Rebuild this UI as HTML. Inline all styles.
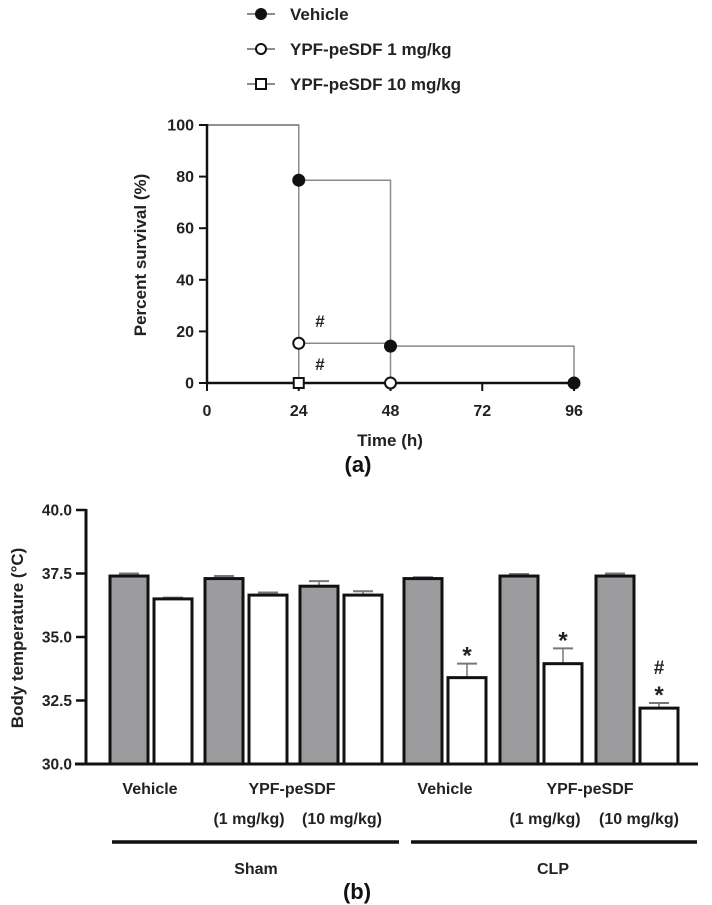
<!DOCTYPE html>
<html><head><meta charset="utf-8"><style>
html,body{margin:0;padding:0;background:#fff;}
svg{display:block;font-family:"Liberation Sans",Arial,sans-serif;font-weight:bold;}
</style></head><body>
<svg id="fig" width="712" height="905" viewBox="0 0 712 905" xmlns="http://www.w3.org/2000/svg">
<g id="legend"></g>
<g id="chartA"></g>
<g id="chartB"></g>
</svg>
<script>
// ---- Panel (a) data ----
const survTimeTicks = [0, 24, 48, 72, 96];
const survPctTicks = [0, 20, 40, 60, 80, 100];
const vehTimes = [0, 24, 48, 96];
const vehSurv = [100, 78.6, 14.3, 0];
const low1Times = [0, 24, 48];
const low1Surv = [100, 15.4, 0];
const high10Times = [0, 24];
const high10Surv = [100, 0];

// ---- Panel (b) data ----
const tempGroups = ["Sham Vehicle","Sham 1 mg/kg","Sham 10 mg/kg","CLP Vehicle","CLP 1 mg/kg","CLP 10 mg/kg"];
const preTemp = [37.4, 37.3, 37.0, 37.3, 37.4, 37.4];
const preErr = [0.1, 0.1, 0.2, 0.05, 0.08, 0.1];
const postTemp = [36.5, 36.65, 36.65, 33.4, 33.95, 32.2];
const postErr = [0.05, 0.1, 0.15, 0.55, 0.6, 0.2];
const postMarks = [[], [], [], ["*"], ["*"], ["*", "#"]];
const tempTicks = [30.0, 32.5, 35.0, 37.5, 40.0];

const NS = "http://www.w3.org/2000/svg";
function mk(tag, attrs, parent, text) {
  const e = document.createElementNS(NS, tag);
  for (const k in attrs) e.setAttribute(k, attrs[k]);
  if (text !== undefined) e.textContent = text;
  parent.appendChild(e);
  return e;
}

// ---- Legend ----
const lg = document.getElementById('legend');
const legendItems = [["Vehicle", "filled"], ["YPF-peSDF 1 mg/kg", "open"], ["YPF-peSDF 10 mg/kg", "square"]];
legendItems.forEach((it, i) => {
  const y = 14 + i * 35;
  const g = mk('g', {}, lg);
  
  
  mk('line', {x1: 247, x2: 275, y1: y, y2: y, stroke: '#666', 'stroke-width': 1.5}, g);
  if (it[1] === 'square') mk('rect', {x: 256, y: y - 5, width: 10, height: 10, fill: '#fff', stroke: '#111', 'stroke-width': 2}, g);
  else mk('circle', {cx: 261, cy: y, r: 5, fill: it[1] === 'filled' ? '#111' : '#fff', stroke: '#111', 'stroke-width': 2}, g);
  mk('text', {x: 290, y: y + 6, 'font-size': 17, fill: '#222'}, g, it[0]);
});

// ---- Panel (a) ----
const A = document.getElementById('chartA');
const ax = t => 207 + (t / 96) * (574 - 207);
const ay = p => 383 - (p / 100) * (383 - 125);
function stepPath(ts, ps) {
  let d = `M${ax(ts[0])},${ay(ps[0])}`;
  for (let i = 1; i < ts.length; i++) d += ` H${ax(ts[i])} V${ay(ps[i])}`;
  return d;
}
[[vehTimes, vehSurv, 'vehicle-survival-line'], [low1Times, low1Surv, 'low-dose-survival-line'], [high10Times, high10Surv, 'high-dose-survival-line']].forEach(s => {
  const p = mk('path', {d: stepPath(s[0], s[1]), fill: 'none', stroke: '#8a8a8a', 'stroke-width': 1.5}, A);
  
  
});
const yAxA = mk('line', {x1: 207, x2: 207, y1: 124, y2: 384, stroke: '#111', 'stroke-width': 2.5}, A);


const xAxA = mk('line', {x1: 206, x2: 576, y1: 383, y2: 383, stroke: '#111', 'stroke-width': 2.5}, A);


survPctTicks.forEach(p => {
  mk('line', {x1: 199, x2: 207, y1: ay(p), y2: ay(p), stroke: '#111', 'stroke-width': 2}, A);
  const t = mk('text', {x: 194, y: ay(p) + 5.5, 'font-size': 16, 'text-anchor': 'end', fill: '#222'}, A, String(p));
  
  
});
survTimeTicks.forEach(v => {
  mk('line', {x1: ax(v), x2: ax(v), y1: 383, y2: 391, stroke: '#111', 'stroke-width': 2}, A);
  const t = mk('text', {x: ax(v), y: 416, 'font-size': 16, 'text-anchor': 'middle', fill: '#222'}, A, String(v));
  
  
});
function dot(t, p, type, name) {
  let e;
  if (type === 'square') e = mk('rect', {x: ax(t) - 5, y: ay(p) - 5, width: 10, height: 10, fill: '#fff', stroke: '#111', 'stroke-width': 2}, A);
  else e = mk('circle', {cx: ax(t), cy: ay(p), r: 5.5, fill: type === 'filled' ? '#111' : '#fff', stroke: '#111', 'stroke-width': 2}, A);
  
  
}
for (let i = 1; i < vehTimes.length; i++) dot(vehTimes[i], vehSurv[i], 'filled', 'vehicle-point');
for (let i = 1; i < low1Times.length; i++) dot(low1Times[i], low1Surv[i], 'open', 'low-dose-point');
for (let i = 1; i < high10Times.length; i++) dot(high10Times[i], high10Surv[i], 'square', 'high-dose-point');
const h1 = mk('text', {x: 320, y: 327, 'font-size': 17, 'text-anchor': 'middle', fill: '#222'}, A, '#');


const h2 = mk('text', {x: 320, y: 370, 'font-size': 17, 'text-anchor': 'middle', fill: '#222'}, A, '#');


const ytA = mk('text', {x: 0, y: 0, 'font-size': 17, 'text-anchor': 'middle', fill: '#222', transform: 'translate(146,255) rotate(-90)'}, A, 'Percent survival (%)');


const xtA = mk('text', {x: 390, y: 446, 'font-size': 17, 'text-anchor': 'middle', fill: '#222'}, A, 'Time (h)');


const pa = mk('text', {x: 358, y: 472, 'font-size': 22, 'text-anchor': 'middle', fill: '#111'}, A, '(a)');



// ---- Panel (b) ----
const B = document.getElementById('chartB');
const by = v => 764 - (v - 30) * 25.4;
const bx = i => i < 3 ? 110 + i * 95 : 404 + (i - 3) * 96;
const BW = 38, OFF = 44;
function errBar(cx, v, e) {
  mk('line', {x1: cx, x2: cx, y1: by(v), y2: by(v + e), stroke: '#777', 'stroke-width': 1.5}, B);
  mk('line', {x1: cx - 10, x2: cx + 10, y1: by(v + e), y2: by(v + e), stroke: '#777', 'stroke-width': 2}, B);
}
tempGroups.forEach((g, i) => {
  const x0 = bx(i);
  errBar(x0 + BW / 2, preTemp[i], preErr[i]);
  const r1 = mk('rect', {x: x0, y: by(preTemp[i]), width: BW, height: by(30) - by(preTemp[i]), fill: '#9c9c9f', stroke: '#111', 'stroke-width': 3}, B);
  
  
  errBar(x0 + OFF + BW / 2, postTemp[i], postErr[i]);
  const r2 = mk('rect', {x: x0 + OFF, y: by(postTemp[i]), width: BW, height: by(30) - by(postTemp[i]), fill: '#fff', stroke: '#111', 'stroke-width': 3}, B);
  
  
  const cap = by(postTemp[i] + postErr[i]);
  postMarks[i].forEach((m, k) => {
    const yy = m === '*' ? cap : cap - 29;
    const t = mk('text', {x: x0 + OFF + BW / 2, y: yy, 'font-size': m === '*' ? 24 : 19, 'text-anchor': 'middle', fill: '#222'}, B, m);
    
    
  });
});
const yAxB = mk('line', {x1: 86, x2: 86, y1: 509, y2: 765, stroke: '#111', 'stroke-width': 3}, B);


const xAxB = mk('line', {x1: 75, x2: 698, y1: 764, y2: 764, stroke: '#111', 'stroke-width': 3}, B);


tempTicks.forEach(v => {
  mk('line', {x1: 76, x2: 86, y1: by(v), y2: by(v), stroke: '#111', 'stroke-width': 2.5}, B);
  const t = mk('text', {x: 72, y: by(v) + 5.5, 'font-size': 15.5, 'text-anchor': 'end', fill: '#222'}, B, v.toFixed(1));
  
  
});
const ytB = mk('text', {x: 0, y: 0, 'font-size': 17, 'text-anchor': 'middle', fill: '#222', transform: 'translate(23,638) rotate(-90)'}, B, 'Body temperature (°C)');


const catLabels = [[150, 794, 'Vehicle'], [292, 794, 'YPF-peSDF'], [249, 824, '(1 mg/kg)'], [342, 824, '(10 mg/kg)'],
  [445, 794, 'Vehicle'], [590, 794, 'YPF-peSDF'], [545, 824, '(1 mg/kg)'], [639, 824, '(10 mg/kg)']];
catLabels.forEach(c => {
  const t = mk('text', {x: c[0], y: c[1], 'font-size': 16, 'text-anchor': 'middle', fill: '#222'}, B, c[2]);
  
  
});
const l1 = mk('line', {x1: 112, x2: 399, y1: 842, y2: 842, stroke: '#111', 'stroke-width': 3.5}, B);


const l2 = mk('line', {x1: 411, x2: 697, y1: 842, y2: 842, stroke: '#111', 'stroke-width': 3.5}, B);


const s1 = mk('text', {x: 256, y: 874, 'font-size': 16, 'text-anchor': 'middle', fill: '#222'}, B, 'Sham');


const s2 = mk('text', {x: 553, y: 874, 'font-size': 16, 'text-anchor': 'middle', fill: '#222'}, B, 'CLP');


const pb = mk('text', {x: 357, y: 899, 'font-size': 22, 'text-anchor': 'middle', fill: '#111'}, B, '(b)');


</script>
</body></html>
